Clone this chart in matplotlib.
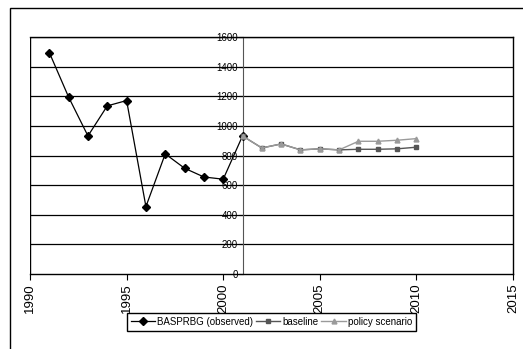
import matplotlib.pyplot as plt
from matplotlib.patches import Rectangle

plt.rcParams['font.family'] = ['Liberation Sans', 'DejaVu Sans']

obs_years = [1991, 1992, 1993, 1994, 1995, 1996, 1997, 1998, 1999, 2000, 2001]
obs_vals = [1495, 1194, 932, 1135, 1171, 455, 811, 714, 655, 640, 932]

proj_years = [2001, 2002, 2003, 2004, 2005, 2006, 2007, 2008, 2009, 2010]
baseline = [932, 851, 878, 838, 845, 838, 842, 842, 845, 856]
policy = [932, 851, 878, 838, 845, 838, 896, 896, 903, 914]

yticks = [0, 200, 400, 600, 800, 1000, 1200, 1400, 1600]
xticks = [1990, 1995, 2000, 2005, 2010, 2015]

fig = plt.figure(figsize=(5.23, 3.49), dpi=100)
# outer chart border (cut off on right and bottom)
fig.patches.append(Rectangle((10 / 523, -0.1), 1.2, 1 - 8 / 349 + 0.1,
                             transform=fig.transFigure, fill=False,
                             edgecolor='black', linewidth=1.0))

ax = fig.add_axes([30 / 523, 1 - 274 / 349, 483 / 523, 237 / 349])

for y in yticks[1:]:
    ax.axhline(y, color='black', linewidth=0.9, zorder=1)

ax.plot(obs_years, obs_vals, color='black', linewidth=0.9, marker='D',
        markersize=4.5, label='BASPRBG (observed)', zorder=3)
ax.plot(proj_years, baseline, color='#555555', linewidth=1.0, marker='s',
        markersize=3.5, label='baseline', zorder=3)
ax.plot(proj_years, policy, color='#9a9a9a', linewidth=1.0, marker='^',
        markersize=3.5, label='policy scenario', zorder=3)

ax.set_xlim(1990, 2015)
ax.set_ylim(0, 1600)
ax.spines['left'].set_position(('data', 2001))
ax.spines['left'].set_color('#555555')
ax.axvline(1990, color='black', linewidth=1.0, zorder=1)
for s in ['top', 'right', 'bottom']:
    ax.spines[s].set_linewidth(1.0)

ax.set_yticks(yticks)
ax.set_yticklabels([str(v) for v in yticks], fontsize=7)
ax.tick_params(axis='y', direction='out', length=3, pad=0.5)
ax.set_xticks(xticks)
ax.set_xticklabels([str(v) for v in xticks], rotation=90, fontsize=9.5)
ax.tick_params(axis='x', direction='out', length=4, pad=3)

ax.legend(loc='upper left', bbox_to_anchor=(127 / 523, 1 - 313 / 349),
          bbox_transform=fig.transFigure, ncol=3, fontsize=7,
          frameon=True, fancybox=False, edgecolor='black', framealpha=1,
          handlelength=2.5, handletextpad=0.2, columnspacing=0.3,
          borderpad=0.4, borderaxespad=0)

fig.savefig('out.png', dpi=100)
